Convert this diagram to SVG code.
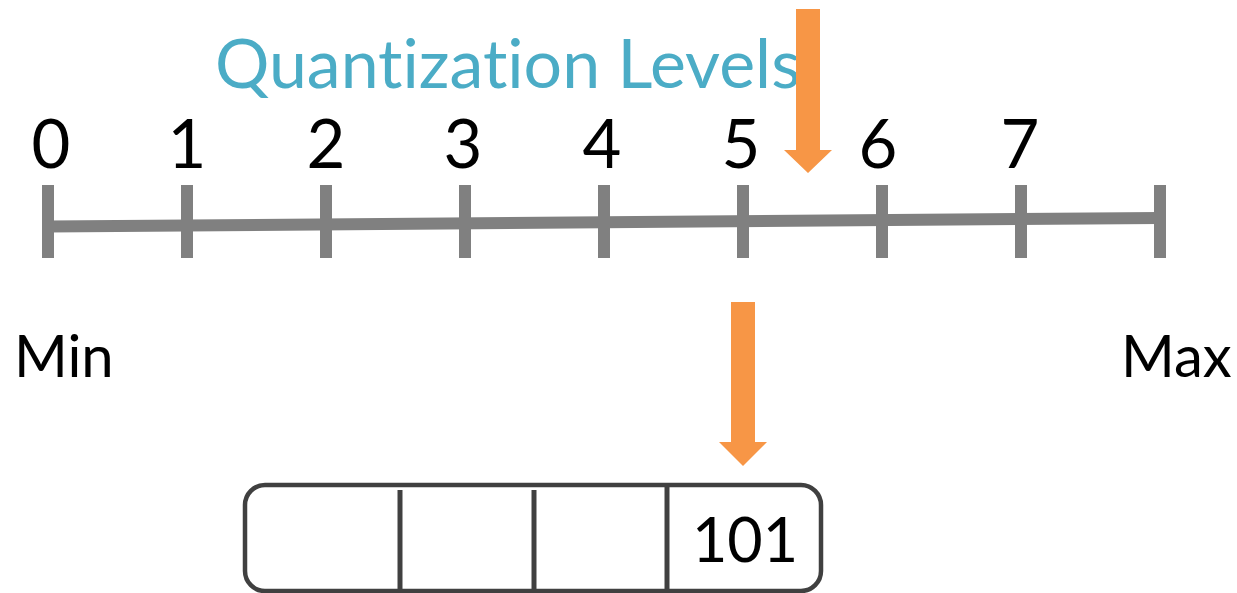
<svg xmlns="http://www.w3.org/2000/svg" width="1237" height="593" viewBox="0 0 1237 593">
  <style>
    .lbl { font-family: Lato, "Open Sans", "Liberation Sans", sans-serif; fill: #000000; font-variant-ligatures: none; }
    .digit { font-size: 67px; text-anchor: middle; }
    .end { font-size: 58px; }
    .title { font-family: Lato, "Open Sans", "Liberation Sans", sans-serif; font-size: 68px; fill: #4BACC6; font-variant-ligatures: none; }
    .axis { stroke: #808080; stroke-width: 12; fill: none; }
    .tick { fill: #808080; }
    .arrow { fill: #F79646; }
    .reg { fill: #ffffff; stroke: #404040; stroke-width: 4.5; }
    .div { stroke: #404040; stroke-width: 5; }
  </style>

  <g id="title">
    <text class="title" x="215" y="88">Quantization Levels</text>
  </g>

  <!-- number line with ticks -->
  <g id="scale">
    <line class="axis" x1="48" y1="226.5" x2="1160" y2="218"/>
    <rect class="tick" x="42" y="185" width="12" height="73"/>
    <rect class="tick" x="181" y="185" width="12" height="73"/>
    <rect class="tick" x="320" y="185" width="12" height="73"/>
    <rect class="tick" x="459" y="185" width="12" height="73"/>
    <rect class="tick" x="598" y="185" width="12" height="73"/>
    <rect class="tick" x="737" y="185" width="12" height="73"/>
    <rect class="tick" x="876" y="185" width="12" height="73"/>
    <rect class="tick" x="1015" y="185" width="12" height="73"/>
    <rect class="tick" x="1154" y="185" width="12" height="73"/>
  </g>

  <g id="levels">
    <text class="lbl digit" x="51" y="168">0</text>
    <text class="lbl digit" x="187" y="168">1</text>
    <text class="lbl digit" x="326" y="168">2</text>
    <text class="lbl digit" x="463" y="168">3</text>
    <text class="lbl digit" x="602" y="168">4</text>
    <text class="lbl digit" x="741" y="168">5</text>
    <text class="lbl digit" x="878" y="168">6</text>
    <text class="lbl digit" x="1020" y="168">7</text>
  </g>

  <g id="min-label">
    <text class="lbl end" x="14" y="377">Min</text>
  </g>
  <g id="max-label">
    <text class="lbl end" x="1121" y="377">Max</text>
  </g>

  <!-- 4-cell register holding the code -->
  <g id="register">
    <rect class="reg" x="245" y="485" width="576" height="106" rx="20" ry="20"/>
    <line class="div" x1="400" y1="490" x2="400" y2="593"/>
    <line class="div" x1="534" y1="490" x2="534" y2="593"/>
    <line class="div" x1="667" y1="487" x2="667" y2="593"/>
    <text class="lbl" x="745" y="562" font-size="61" text-anchor="middle">101</text>
  </g>

  <g id="connectors">
    <!-- input sample arrow -->
    <polygon class="arrow" points="796,9 820,9 820,150 832,150 808,173 784,150 796,150"/>
    <!-- level to code arrow -->
    <polygon class="arrow" points="731,302 755,302 755,442 767,442 743,466 719,442 731,442"/>
  </g>
</svg>
